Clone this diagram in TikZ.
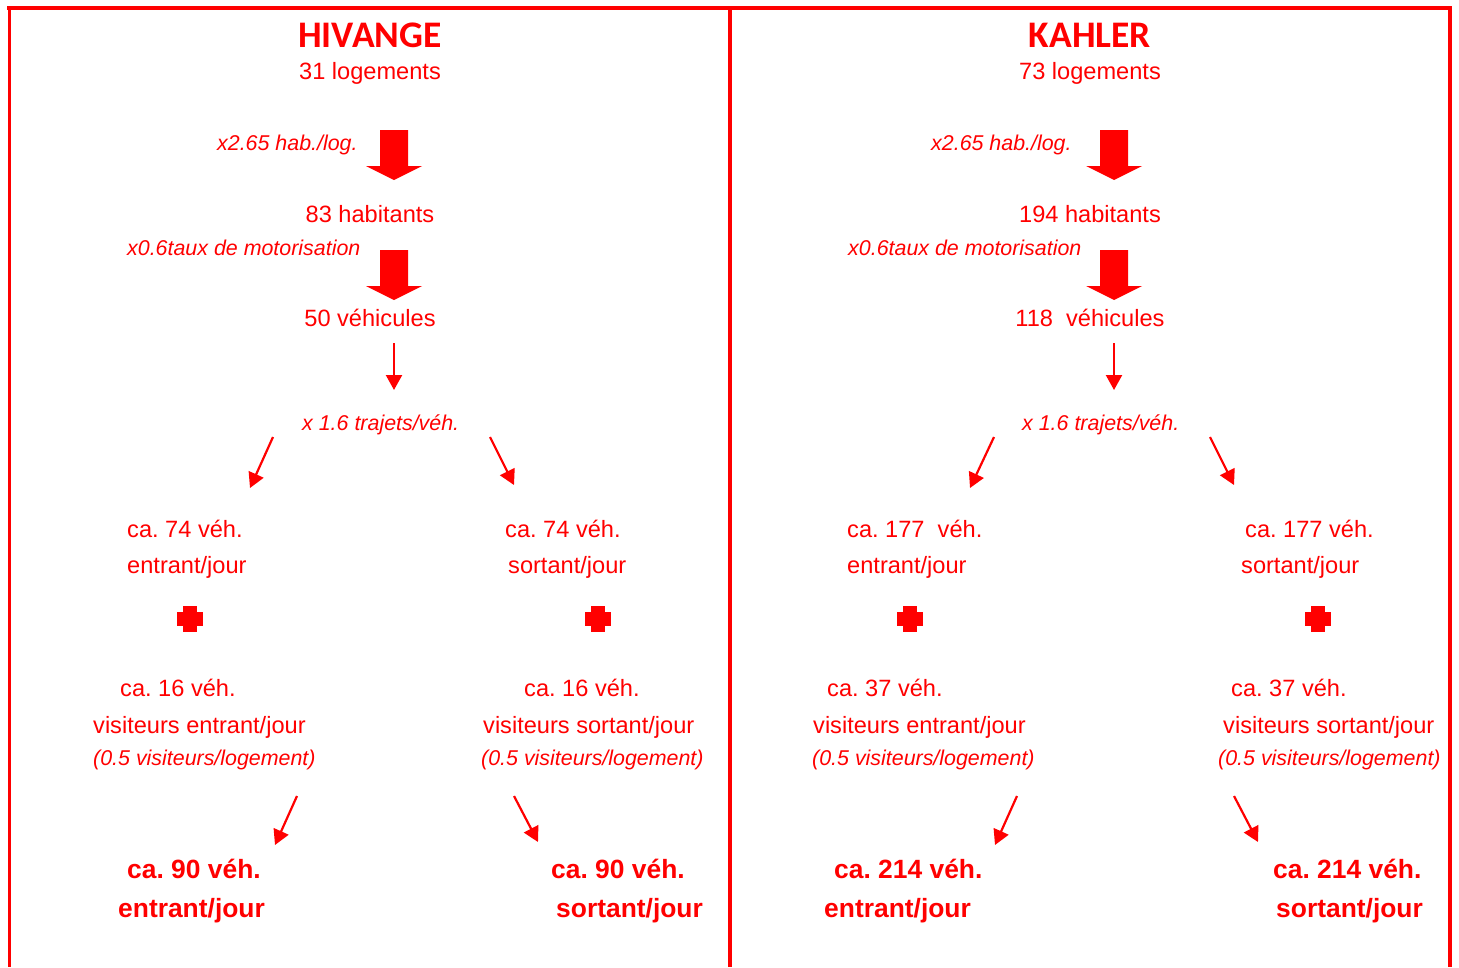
\documentclass[tikz,border=0pt]{standalone}
\usepackage{fontspec}
\setmainfont{Liberation Sans}
\newfontfamily\titlefont{Carlito}
\usetikzlibrary{arrows.meta}
\frenchspacing
\definecolor{fr}{RGB}{255,0,0}
\tikzset{
  txt/.style={text=fr, inner sep=0pt, anchor=base west},
  reg/.style={txt, font=\fontsize{23.6}{28}\selectfont},
  ita/.style={txt, font=\fontsize{21.4}{25}\selectfont\itshape},
  bld/.style={txt, font=\fontsize{26.4}{31}\selectfont\bfseries},
  ttl/.style={txt, anchor=base, font=\fontsize{37.5}{44}\selectfont\titlefont\bfseries},
  frame/.style={draw=fr, line width=3.4pt},
  thin/.style={draw=fr, line width=2.2pt, -{Triangle[width=16pt,length=15pt]}},
  bigarrow/.pic={\fill[fr] (-14,0) -- (14,0) -- (14,36) -- (28,36) -- (0,50) -- (-28,36) -- (-14,36) -- cycle;},
  plus/.pic={\fill[fr] (-13,-7) rectangle (13,7); \fill[fr] (-7,-13) rectangle (7,13);}
}
\begin{document}
\begin{tikzpicture}[x=1pt,y=-1pt]
\useasboundingbox (0,0) rectangle (1459,967);
% frame
\draw[frame] (7,8) -- (1452,8);
\draw[frame] (9.5,8) -- (9.5,967);
\draw[frame] (730,8) -- (730,967);
\draw[frame] (1450,8) -- (1450,967);

% ===== HIVANGE =====
\node[ttl] (h-title) at (370,47) {HIVANGE};
\node[reg, anchor=base] (h-log) at (370,79) {31 logements};
\node[ita] (h-f1) at (217,150) {x2.65 hab./log.};
\pic at (394,130) {bigarrow};
\node[reg, anchor=base] (h-hab) at (370,222) {83 habitants};
\node[ita] (h-f2) at (127,255) {x0.6taux de motorisation};
\pic at (394,250) {bigarrow};
\node[reg, anchor=base] (h-veh) at (370,326) {50 véhicules};
\coordinate (h-a1s) at (394,343); \coordinate (h-a1e) at (394,390);
\draw[thin] (h-a1s) -- (h-a1e);
\node[ita] (h-f3) at (302,430) {x 1.6 trajets/véh.};
\coordinate (h-a2s) at (273,437); \coordinate (h-a2e) at (250,488);
\coordinate (h-a3s) at (490,437); \coordinate (h-a3e) at (514,485);
\draw[thin] (h-a2s) -- (h-a2e);
\draw[thin] (h-a3s) -- (h-a3e);
\node[reg] (h-in1) at (127,537) {ca. 74 véh.};
\node[reg] (h-in2) at (127,573) {entrant/jour};
\node[reg] (h-out1) at (505,537) {ca. 74 véh.};
\node[reg] (h-out2) at (508,573) {sortant/jour};
\pic at (190,619) {plus};
\pic at (598,619) {plus};
\node[reg] (h-vin1) at (120,696) {ca. 16 véh.};
\node[reg] (h-vin2) at (93,733) {visiteurs entrant/jour};
\node[ita] (h-vin3) at (93,765) {(0.5 visiteurs/logement)};
\node[reg] (h-vout1) at (524,696) {ca. 16 véh.};
\node[reg] (h-vout2) at (483,733) {visiteurs sortant/jour};
\node[ita] (h-vout3) at (481,765) {(0.5 visiteurs/logement)};
\coordinate (h-a4s) at (297,796); \coordinate (h-a4e) at (275,845);
\coordinate (h-a5s) at (514,796); \coordinate (h-a5e) at (538,842);
\draw[thin] (h-a4s) -- (h-a4e);
\draw[thin] (h-a5s) -- (h-a5e);
\node[bld] (h-tin1) at (127,878) {ca. 90 véh.};
\node[bld] (h-tin2) at (118,917) {entrant/jour};
\node[bld] (h-tout1) at (551,878) {ca. 90 véh.};
\node[bld] (h-tout2) at (556,917) {sortant/jour};

% ===== KAHLER =====
\node[ttl] (k-title) at (1090,47) {KAHLER};
\node[reg, anchor=base] (k-log) at (1090,79) {73 logements};
\node[ita] (k-f1) at (931,150) {x2.65 hab./log.};
\pic at (1114,130) {bigarrow};
\node[reg, anchor=base] (k-hab) at (1090,222) {194 habitants};
\node[ita] (k-f2) at (848,255) {x0.6taux de motorisation};
\pic at (1114,250) {bigarrow};
\node[reg, anchor=base] (k-veh) at (1090,326) {118\ \ véhicules};
\coordinate (k-a1s) at (1114,343); \coordinate (k-a1e) at (1114,390);
\draw[thin] (k-a1s) -- (k-a1e);
\node[ita] (k-f3) at (1022,430) {x 1.6 trajets/véh.};
\coordinate (k-a2s) at (994,437); \coordinate (k-a2e) at (970,488);
\coordinate (k-a3s) at (1210,437); \coordinate (k-a3e) at (1234,485);
\draw[thin] (k-a2s) -- (k-a2e);
\draw[thin] (k-a3s) -- (k-a3e);
\node[reg] (k-in1) at (847,537) {ca. 177\ \ véh.};
\node[reg] (k-in2) at (847,573) {entrant/jour};
\node[reg] (k-out1) at (1245,537) {ca. 177 véh.};
\node[reg] (k-out2) at (1241,573) {sortant/jour};
\pic at (910,619) {plus};
\pic at (1318,619) {plus};
\node[reg] (k-vin1) at (827,696) {ca. 37 véh.};
\node[reg] (k-vin2) at (813,733) {visiteurs entrant/jour};
\node[ita] (k-vin3) at (812,765) {(0.5 visiteurs/logement)};
\node[reg] (k-vout1) at (1231,696) {ca. 37 véh.};
\node[reg] (k-vout2) at (1223,733) {visiteurs sortant/jour};
\node[ita] (k-vout3) at (1218,765) {(0.5 visiteurs/logement)};
\coordinate (k-a4s) at (1017,796); \coordinate (k-a4e) at (995,845);
\coordinate (k-a5s) at (1234,796); \coordinate (k-a5e) at (1258,842);
\draw[thin] (k-a4s) -- (k-a4e);
\draw[thin] (k-a5s) -- (k-a5e);
\node[bld] (k-tin1) at (834,878) {ca. 214 véh.};
\node[bld] (k-tin2) at (824,917) {entrant/jour};
\node[bld] (k-tout1) at (1273,878) {ca. 214 véh.};
\node[bld] (k-tout2) at (1276,917) {sortant/jour};
\end{tikzpicture}
\end{document}
